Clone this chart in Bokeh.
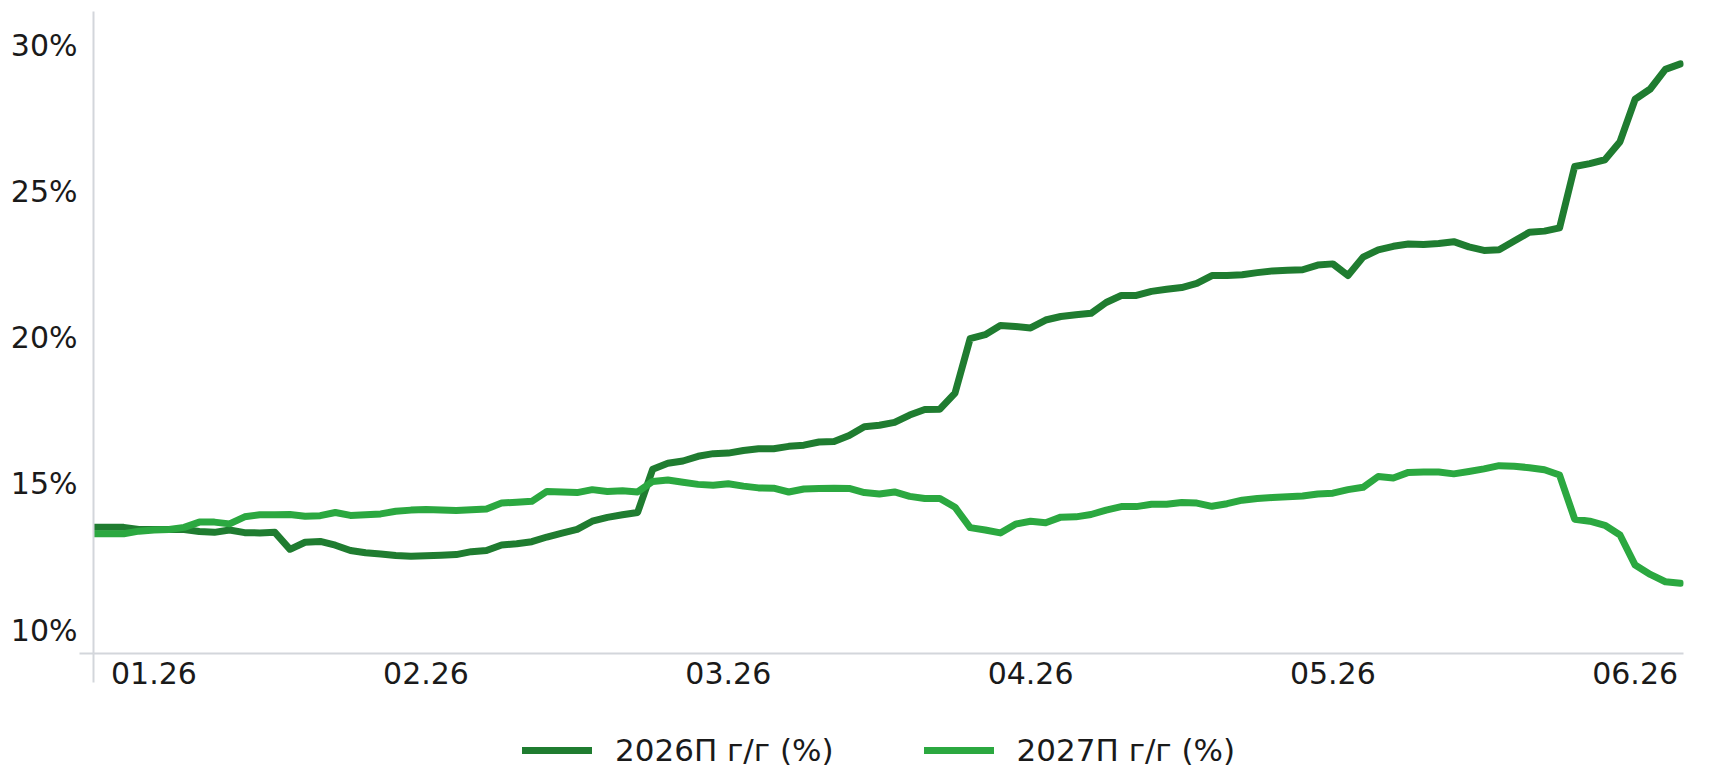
from bokeh.plotting import figure
from bokeh.layouts import column
from bokeh.models import Range1d, FixedTicker, Legend, LegendItem
from bokeh.embed import file_html
from bokeh.resources import INLINE

# trading-day index
day_idx = list(range(106))

# 2026П г/г (%)
y2026 = [13.51, 13.51, 13.51, 13.44, 13.44, 13.44, 13.44, 13.37, 13.34, 13.42,
         13.33, 13.32, 13.34, 12.76, 13.00, 13.03, 12.90, 12.72, 12.64, 12.60,
         12.55, 12.52, 12.54, 12.56, 12.58, 12.68, 12.72, 12.91, 12.95, 13.02,
         13.18, 13.31, 13.44, 13.72, 13.85, 13.94, 14.02, 15.50, 15.70, 15.78,
         15.94, 16.03, 16.05, 16.14, 16.20, 16.20, 16.28, 16.32, 16.43, 16.45,
         16.65, 16.95, 17.00, 17.10, 17.35, 17.54, 17.55, 18.10, 19.96, 20.10,
         20.41, 20.38, 20.33, 20.60, 20.72, 20.78, 20.83, 21.20, 21.44, 21.44,
         21.58, 21.65, 21.71, 21.85, 22.12, 22.12, 22.15, 22.22, 22.28, 22.30,
         22.32, 22.48, 22.52, 22.12, 22.75, 23.00, 23.12, 23.20, 23.18, 23.22,
         23.28, 23.10, 22.98, 23.00, 23.30, 23.60, 23.64, 23.75, 25.85, 25.95,
         26.08, 26.70, 28.15, 28.50, 29.17, 29.36]

# 2027П г/г (%)
y2027 = [13.29, 13.29, 13.29, 13.38, 13.42, 13.44, 13.51, 13.69, 13.69, 13.63,
         13.87, 13.94, 13.94, 13.95, 13.89, 13.91, 14.02, 13.92, 13.94, 13.97,
         14.06, 14.10, 14.12, 14.10, 14.09, 14.11, 14.14, 14.34, 14.37, 14.40,
         14.74, 14.72, 14.70, 14.80, 14.74, 14.76, 14.72, 15.08, 15.13, 15.05,
         14.98, 14.95, 15.00, 14.92, 14.86, 14.85, 14.72, 14.82, 14.84, 14.85,
         14.84, 14.70, 14.65, 14.72, 14.57, 14.50, 14.50, 14.20, 13.50, 13.42,
         13.32, 13.62, 13.72, 13.67, 13.86, 13.87, 13.95, 14.10, 14.22, 14.22,
         14.30, 14.30, 14.36, 14.34, 14.23, 14.32, 14.44, 14.50, 14.53, 14.56,
         14.58, 14.65, 14.68, 14.80, 14.88, 15.25, 15.20, 15.39, 15.40, 15.40,
         15.34, 15.42, 15.51, 15.62, 15.60, 15.55, 15.48, 15.30, 13.79, 13.72,
         13.58, 13.25, 12.22, 11.90, 11.65, 11.60]

x_tick_pos = [4, 22, 42, 62, 82, 102]
x_tick_labels = ["01.26", "02.26", "03.26", "04.26", "05.26", "06.26"]
y_tick_vals = [10, 15, 20, 25, 30]
y_tick_labels = ["10%", "15%", "20%", "25%", "30%"]
series_names = ["2026П г/г (%)", "2027П г/г (%)"]

DARK = "#1f7c30"
LIGHT = "#2ba840"
AXIS = "#d3d6db"
TEXT = "#1a1a1a"
FONT = "DejaVu Sans"

Y0, Y1 = 9.197, 31.15
X0, X1 = 0, 105.2

W = 1713
H_MAIN = 705
H_LEG = 75

p = figure(width=W, height=H_MAIN, output_backend="svg", toolbar_location=None,
           x_range=Range1d(X0, X1), y_range=Range1d(Y0, Y1),
           min_border_left=93, min_border_right=30, min_border_top=11,
           min_border_bottom=52)
p.outline_line_color = None
p.xgrid.visible = False
p.ygrid.visible = False
p.background_fill_color = "white"
p.border_fill_color = "white"

line_style = dict(line_width=7, line_join="round", line_cap="round")
r1 = p.line(day_idx, y2026, line_color=DARK, **line_style)
r2 = p.line(day_idx, y2027, line_color=LIGHT, **line_style)

xa = p.xaxis[0]
xa.ticker = FixedTicker(ticks=x_tick_pos, minor_ticks=[X0])
xa.major_label_overrides = {k: v for k, v in zip(x_tick_pos, x_tick_labels)}
xa.axis_line_color = AXIS
xa.axis_line_width = 2
xa.major_tick_line_color = None
xa.major_tick_out = 0
xa.major_tick_in = 0
xa.minor_tick_line_color = AXIS
xa.minor_tick_line_width = 2
xa.minor_tick_out = 29
xa.minor_tick_in = 0
xa.major_label_standoff = -21
xa.major_label_text_font = FONT
xa.major_label_text_font_size = "30px"
xa.major_label_text_color = TEXT

ya = p.yaxis[0]
ya.ticker = FixedTicker(ticks=y_tick_vals, minor_ticks=[Y0])
ya.major_label_overrides = {k: v for k, v in zip(y_tick_vals, y_tick_labels)}
ya.axis_line_color = AXIS
ya.axis_line_width = 2
ya.major_tick_line_color = None
ya.major_tick_out = 0
ya.major_tick_in = 0
ya.minor_tick_line_color = AXIS
ya.minor_tick_line_width = 2
ya.minor_tick_out = 14
ya.minor_tick_in = 0
ya.major_label_standoff = 2
ya.major_label_text_font = FONT
ya.major_label_text_font_size = "30px"
ya.major_label_text_color = TEXT

# legend strip below the chart (its frame is aligned with the chart's frame)
pl = figure(width=W, height=H_LEG, output_backend="svg", toolbar_location=None,
            x_range=Range1d(0, 1), y_range=Range1d(0, 1),
            min_border_left=0, min_border_right=0, min_border_top=0,
            min_border_bottom=0)
pl.axis.visible = False
pl.grid.visible = False
pl.outline_line_color = None
pl.border_fill_color = "white"
# key renderers: same series, lying outside this strip's visible ranges
k1 = pl.line(day_idx, y2026, line_color=DARK, **line_style)
k2 = pl.line(day_idx, y2027, line_color=LIGHT, **line_style)
legend = Legend(items=[LegendItem(label=series_names[0], renderers=[k1]),
                       LegendItem(label=series_names[1], renderers=[k2])],
                orientation="horizontal", location=(429, 12),
                margin=0, padding=0, spacing=90, label_standoff=23,
                glyph_width=70, glyph_height=20,
                label_text_font=FONT, label_text_font_size="31px",
                label_text_color=TEXT,
                border_line_color=None, background_fill_alpha=0)
pl.add_layout(legend, "center")

open("out.html", "w").write(file_html(column(p, pl, spacing=0), INLINE))
